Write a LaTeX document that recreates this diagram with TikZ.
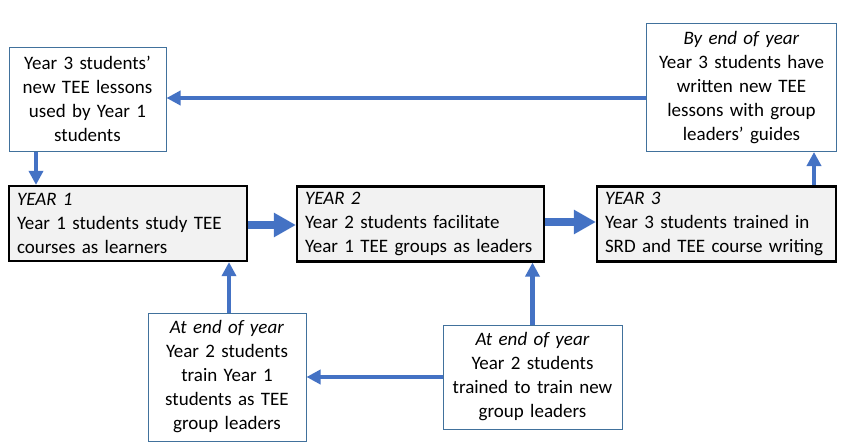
\documentclass[tikz,border=0pt]{standalone}
\usepackage{fontspec}
\setmainfont{Carlito}
\usetikzlibrary{arrows.meta}
\definecolor{arrowblue}{HTML}{4472C4}
\definecolor{boxblue}{HTML}{41719C}
\definecolor{yearfill}{HTML}{F2F2F2}
\tikzset{
  note/.style={draw=boxblue, line width=1pt, fill=white, inner sep=0pt, align=center,
    font=\fontsize{19}{24}\selectfont},
  yearbox/.style={draw=black, line width=2.2pt, fill=yearfill, inner sep=0pt,
    minimum height=75pt, align=left, font=\fontsize{19}{24}\selectfont},
  thinarrow/.style={draw=arrowblue, line width=4.5pt,
    -{Triangle[width=14pt,length=14pt]}},
  thickarrow/.style={draw=arrowblue, line width=8pt,
    -{Triangle[width=23pt,length=22pt]}}
}
\begin{document}
\begin{tikzpicture}
\useasboundingbox (0,0) rectangle (855pt,-447pt);
% notes
\node[note, minimum width=157pt, minimum height=104pt, text width=155pt] (A) at (87.5pt,-99pt)
  {Year 3 students’\\new TEE lessons\\used by Year 1\\students};
\node[note, minimum width=190pt, minimum height=128pt, text width=188pt] (TR) at (741.5pt,-87.5pt)
  {\textit{By end of year}\\Year 3 students have\\written new TEE\\lessons with group\\leaders’ guides};
\node[note, minimum width=158pt, minimum height=128pt, text width=156pt] (BL) at (227pt,-377pt)
  {\textit{At end of year}\\Year 2 students\\train Year 1\\students as TEE\\group leaders};
\node[note, minimum width=179pt, minimum height=104pt, text width=177pt] (BR) at (532.5pt,-377pt)
  {\textit{At end of year}\\Year 2 students\\trained to train new\\group leaders};
% year boxes
\node[yearbox, minimum width=238pt, text width=222pt] (Y1) at (128pt,-223.5pt)
  {\textit{YEAR 1}\\Year 1 students study TEE\\courses as learners};
\node[yearbox, minimum width=247pt, text width=231pt] (Y2) at (420.5pt,-224pt)
  {\textit{YEAR 2}\\Year 2 students facilitate\\Year 1 TEE groups as leaders};
\node[yearbox, minimum width=239pt, text width=223pt] (Y3) at (716.5pt,-224pt)
  {\textit{YEAR 3}\\Year 3 students trained in\\SRD and TEE course writing};
% connectors
\draw[thinarrow] ([yshift=-10.5pt]TR.west) -- ([yshift=-10.5pt]TR.west -| A.east);
\draw[thinarrow] ([xshift=-51.5pt]A.south) -- ([xshift=-51.5pt]A.south |- Y1.north);
\draw[thickarrow] ([yshift=-1.5pt]Y1.east) -- ([yshift=-1.5pt]Y1.east -| Y2.west);
\draw[thickarrow] ([yshift=2pt]Y2.east) -- ([yshift=2pt]Y2.east -| Y3.west);
\draw[thinarrow] ([xshift=97.5pt]Y3.north) -- ([xshift=97.5pt]Y3.north |- TR.south);
\draw[thinarrow] ([xshift=2pt]BL.north) -- ([xshift=2pt]BL.north |- Y1.south);
\draw[thinarrow] (BR.north) -- (BR.north |- Y2.south);
\draw[thinarrow] (BR.west) -- (BL.east);
\end{tikzpicture}
\end{document}
